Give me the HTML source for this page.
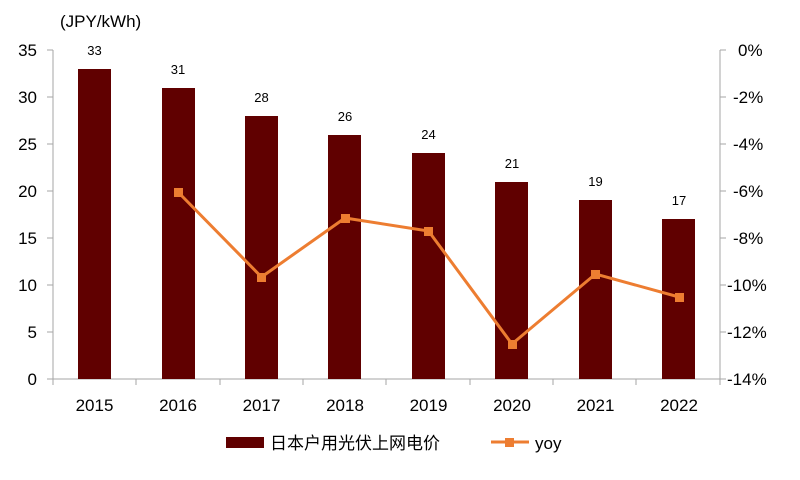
<!DOCTYPE html><html><head><meta charset="utf-8"><style>body{margin:0;background:#fff}svg text{font-family:"Liberation Sans","Noto Sans CJK SC",sans-serif}</style></head><body>
<svg width="800" height="475" xmlns="http://www.w3.org/2000/svg">
<text x="60" y="27" font-size="17" fill="#000">(JPY/kWh)</text>
<g fill="#000" font-size="17" text-anchor="end">
<text x="37" y="56">35</text><text x="37" y="103">30</text><text x="37" y="150">25</text><text x="37" y="197">20</text><text x="37" y="244">15</text><text x="37" y="291">10</text><text x="37" y="338">5</text><text x="37" y="385">0</text>
</g>
<g fill="#000" font-size="17" text-anchor="start">
<text x="738" y="56">0%</text><text x="733" y="103">-2%</text><text x="733" y="150">-4%</text><text x="733" y="197">-6%</text><text x="733" y="244">-8%</text><text x="727" y="291">-10%</text><text x="727" y="338">-12%</text><text x="727" y="385">-14%</text>
</g>
<g stroke="#a6a6a6" stroke-width="1">
<line x1="53" y1="50" x2="53" y2="379"/><line x1="53" y1="379" x2="720" y2="379"/><line x1="720" y1="50" x2="720" y2="379"/>
<line x1="47" y1="50" x2="53" y2="50"/><line x1="47" y1="97" x2="53" y2="97"/><line x1="47" y1="144" x2="53" y2="144"/><line x1="47" y1="191" x2="53" y2="191"/><line x1="47" y1="238" x2="53" y2="238"/><line x1="47" y1="285" x2="53" y2="285"/><line x1="47" y1="332" x2="53" y2="332"/><line x1="47" y1="379" x2="53" y2="379"/>
<line x1="720" y1="50" x2="726" y2="50"/><line x1="720" y1="97" x2="726" y2="97"/><line x1="720" y1="144" x2="726" y2="144"/><line x1="720" y1="191" x2="726" y2="191"/><line x1="720" y1="238" x2="726" y2="238"/><line x1="720" y1="285" x2="726" y2="285"/><line x1="720" y1="332" x2="726" y2="332"/><line x1="720" y1="379" x2="726" y2="379"/>
<line x1="53" y1="379" x2="53" y2="385"/><line x1="136" y1="379" x2="136" y2="385"/><line x1="220" y1="379" x2="220" y2="385"/><line x1="303" y1="379" x2="303" y2="385"/><line x1="386" y1="379" x2="386" y2="385"/><line x1="470" y1="379" x2="470" y2="385"/><line x1="553" y1="379" x2="553" y2="385"/><line x1="636" y1="379" x2="636" y2="385"/><line x1="720" y1="379" x2="720" y2="385"/>
</g>
<g fill="#600000">
<rect x="78" y="69" width="33" height="310"/><rect x="162" y="88" width="33" height="291"/><rect x="245" y="116" width="33" height="263"/><rect x="328" y="135" width="33" height="244"/><rect x="412" y="153" width="33" height="226"/><rect x="495" y="182" width="33" height="197"/><rect x="579" y="200" width="33" height="179"/><rect x="662" y="219" width="33" height="160"/>
</g>
<g font-size="13" text-anchor="middle" fill="#000">
<text x="94.5" y="55">33</text><text x="178" y="74">31</text><text x="261.5" y="102">28</text><text x="345" y="121">26</text><text x="428.5" y="139">24</text><text x="512" y="168">21</text><text x="595.5" y="186">19</text><text x="679" y="205">17</text>
</g>
<g font-size="17" text-anchor="middle" fill="#000">
<text x="94.5" y="411">2015</text><text x="178" y="411">2016</text><text x="261.5" y="411">2017</text><text x="345" y="411">2018</text><text x="428.5" y="411">2019</text><text x="512" y="411">2020</text><text x="595.5" y="411">2021</text><text x="679" y="411">2022</text>
</g>
<polyline fill="none" stroke="#ED7D31" stroke-width="3" points="178,192 261.5,277 345,218 428.5,231 512,344 595.5,274 679,297"/>
<g fill="#ED7D31">
<rect x="174" y="188" width="9" height="9"/><rect x="257" y="273" width="9" height="9"/><rect x="341" y="214" width="9" height="9"/><rect x="424" y="227" width="9" height="9"/><rect x="508" y="340" width="9" height="9"/><rect x="591" y="270" width="9" height="9"/><rect x="675" y="293" width="9" height="9"/>
</g>
<rect x="226" y="437" width="38" height="11" fill="#600000"/>
<text x="270" y="449" font-size="17" fill="#000">日本户用光伏上网电价</text>
<line x1="491" y1="442" x2="529" y2="442" stroke="#ED7D31" stroke-width="3"/>
<rect x="505" y="438" width="9" height="9" fill="#ED7D31"/>
<text x="535" y="449" font-size="17" fill="#000">yoy</text>
</svg>
</body></html>
